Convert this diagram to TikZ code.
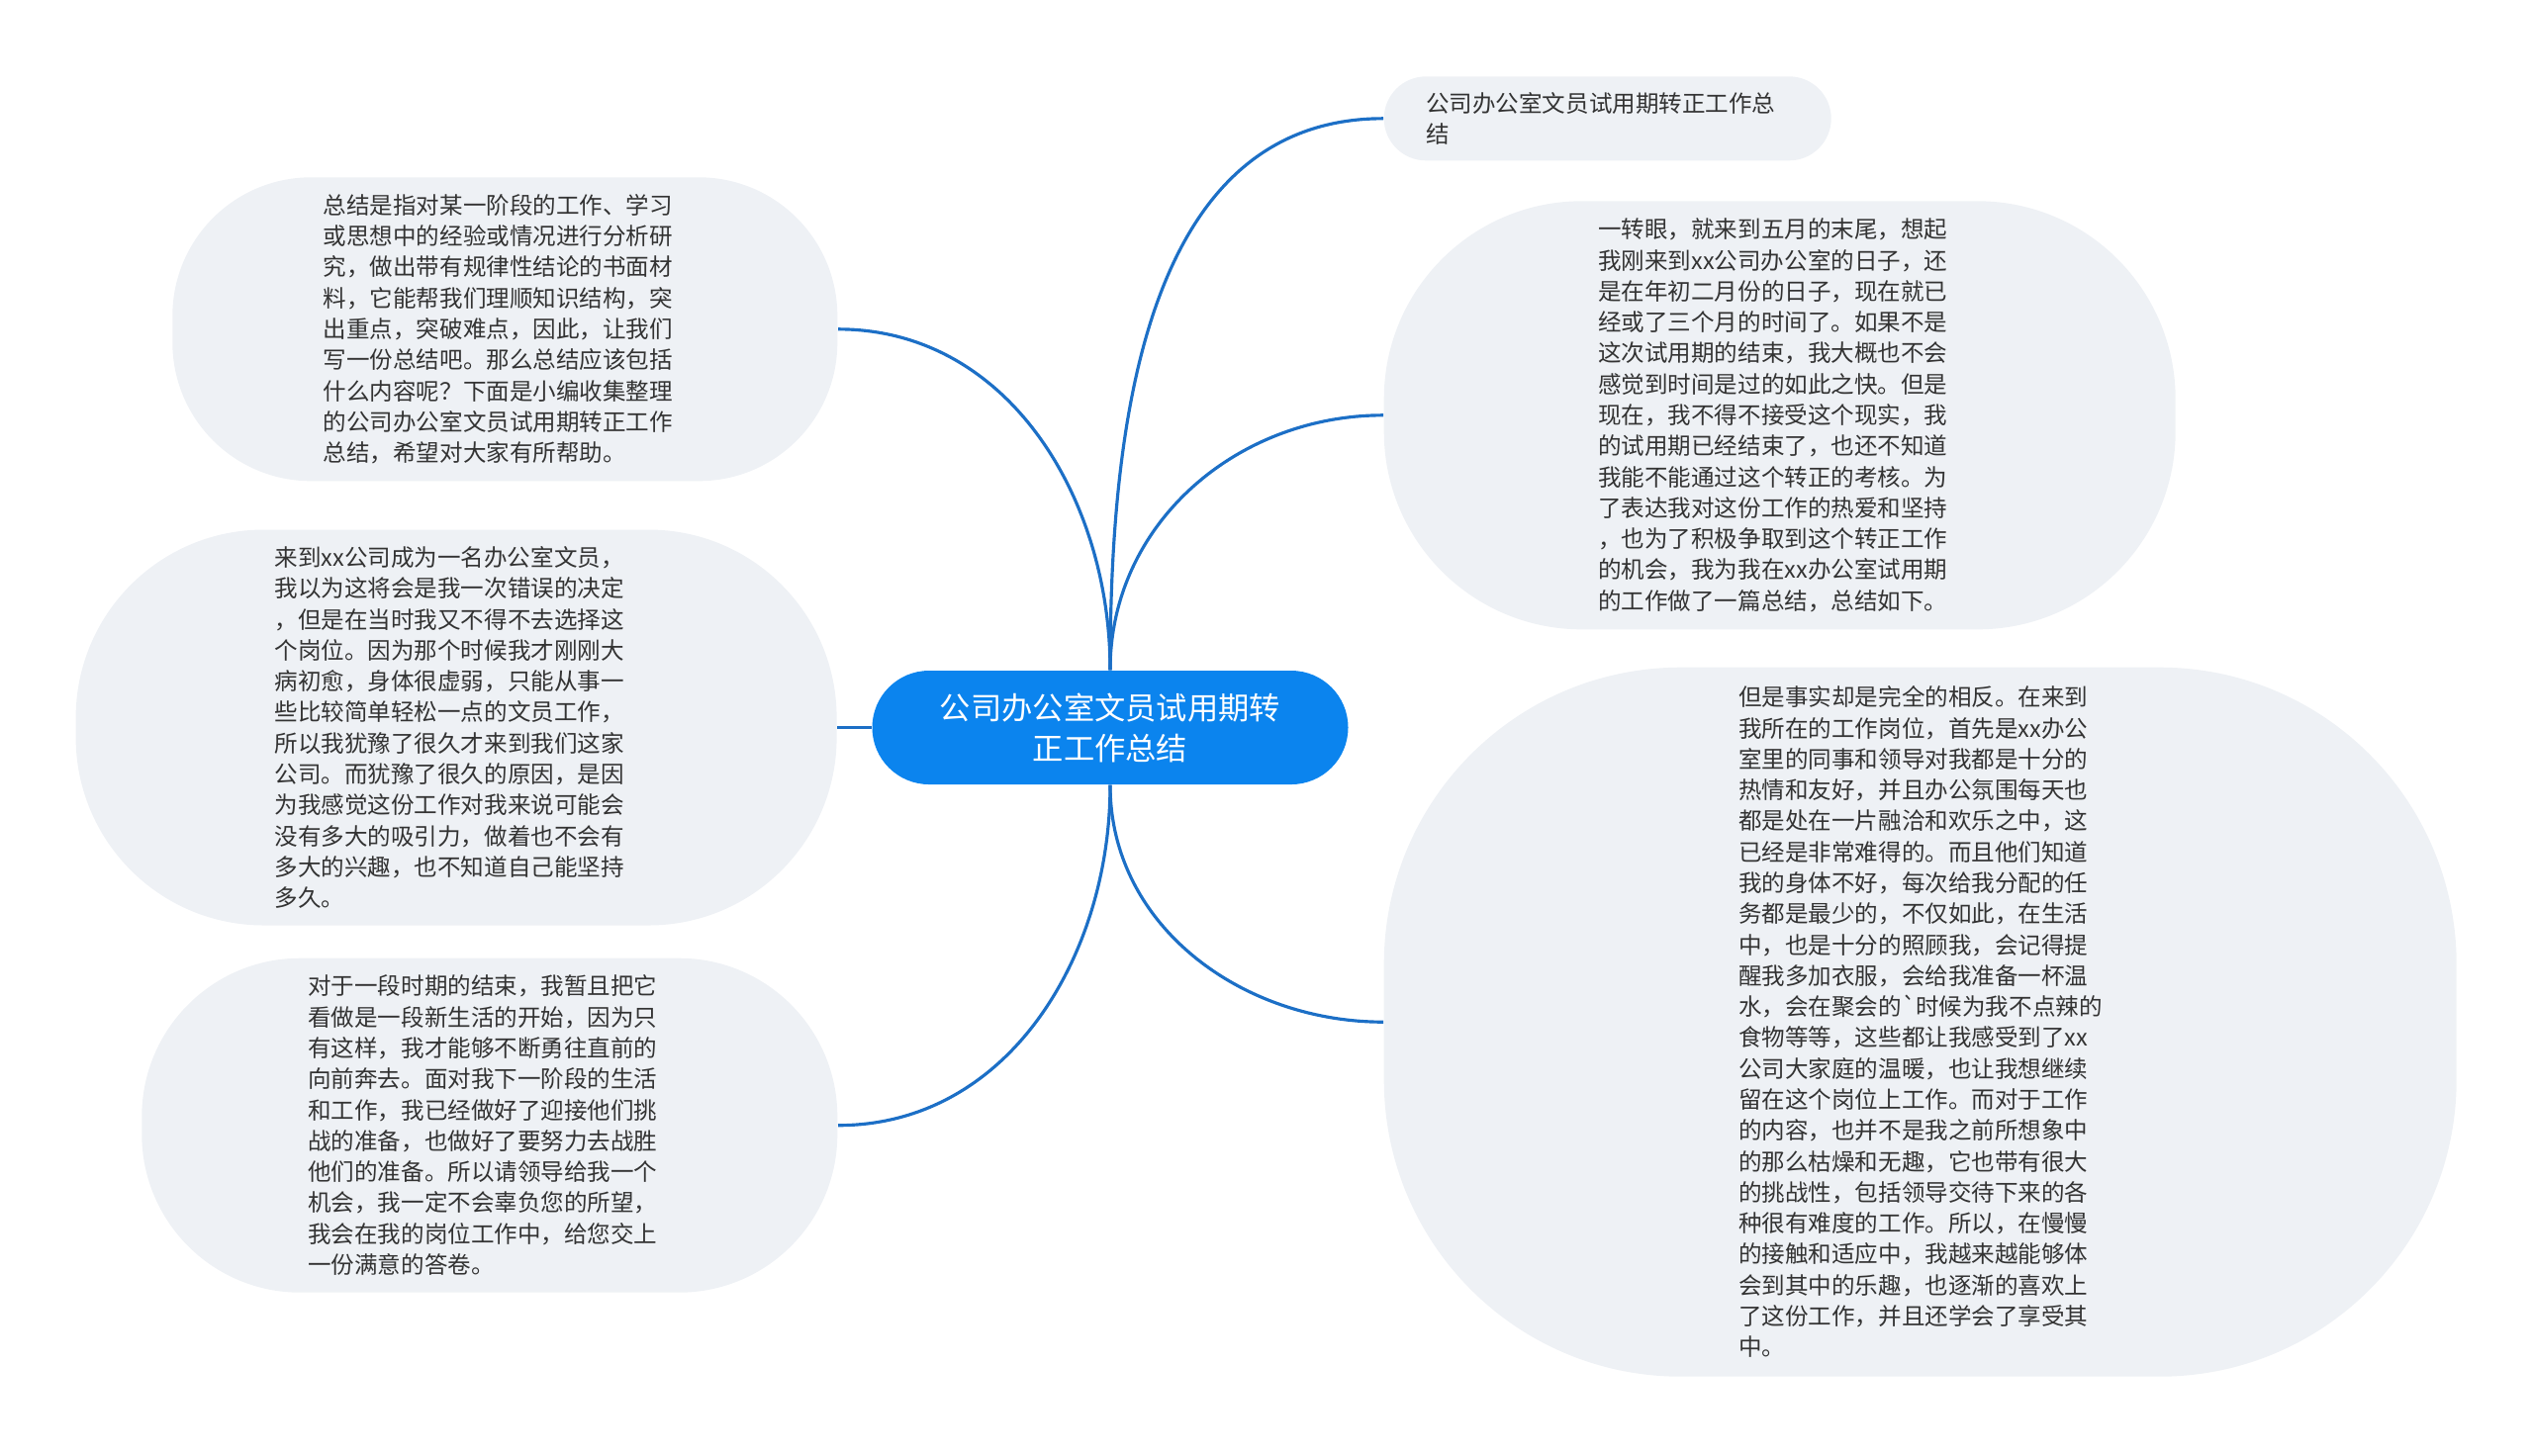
\documentclass[tikz,border=0pt]{standalone}
\usepackage{fontspec}
\newfontfamily\cjkfont{Noto Sans CJK SC}[Ligatures=TeXOff]
\usetikzlibrary{positioning}
\definecolor{leafgray}{HTML}{EEF1F5}
\definecolor{rootblue}{HTML}{0B84EE}
\definecolor{linkblue}{HTML}{1C6FC6}
\definecolor{inkgray}{HTML}{333333}
\tikzset{topic/.style={
       rectangle,
       rounded corners=0.575cm,
       fill=rootblue,
       text=white,
       minimum width=4.81cm,
       minimum height=1.15cm,
       align=center,
       font=\cjkfont\fontsize{8.9pt}{11.7pt}\selectfont
     },
     leaf/.style={
       rectangle,
       fill=leafgray,
       text=inkgray,
       inner sep=0,
       text width=3.67cm,
       align=left,
       font=\cjkfont\fontsize{6.7pt}{8.9pt}\selectfont
     }
}
\begin{document}
\begin{tikzpicture}[
    every edge/.style={draw=linkblue, line width=0.9pt}]
    \useasboundingbox (0,0) rectangle (25.6,-14.71);
    \node[topic] (root) at (11.22,-7.355) {公司办公室文员试用期转\\正工作总结};

    \node[leaf, minimum width=4.52cm, minimum height=0.85cm, rounded corners=0.425cm] (title)
      [above right=5.575cm and 2.76cm of root.north, anchor=west]
      {公司办公室文员试用期转正工作总\\结}
      edge [out=180, in=90] (root.north);

    \node[leaf, minimum width=8cm, minimum height=4.33cm, rounded corners=2cm] (review)
      [above right=2.575cm and 2.76cm of root.north, anchor=west]
      {一转眼，就来到五月的末尾，想起\\我刚来到xx公司办公室的日子，还\\是在年初二月份的日子，现在就已\\经或了三个月的时间了。如果不是\\这次试用期的结束，我大概也不会\\感觉到时间是过的如此之快。但是\\现在，我不得不接受这个现实，我\\的试用期已经结束了，也还不知道\\我能不能通过这个转正的考核。为\\了表达我对这份工作的热爱和坚持\\，也为了积极争取到这个转正工作\\的机会，我为我在xx办公室试用期\\的工作做了一篇总结，总结如下。}
      edge [out=180, in=90] (root.north);

    \node[leaf, minimum width=10.84cm, minimum height=7.17cm, rounded corners=3cm] (reality)
      [below right=2.395cm and 2.76cm of root.south, anchor=west]
      {但是事实却是完全的相反。在来到\\我所在的工作岗位，首先是xx办公\\室里的同事和领导对我都是十分的\\热情和友好，并且办公氛围每天也\\都是处在一片融洽和欢乐之中，这\\已经是非常难得的。而且他们知道\\我的身体不好，每次给我分配的任\\务都是最少的，不仅如此，在生活\\中，也是十分的照顾我，会记得提\\醒我多加衣服，会给我准备一杯温\\水，会在聚会的`时候为我不点辣的\\食物等等，这些都让我感受到了xx\\公司大家庭的温暖，也让我想继续\\留在这个岗位上工作。而对于工作\\的内容，也并不是我之前所想象中\\的那么枯燥和无趣，它也带有很大\\的挑战性，包括领导交待下来的各\\种很有难度的工作。所以，在慢慢\\的接触和适应中，我越来越能够体\\会到其中的乐趣，也逐渐的喜欢上\\了这份工作，并且还学会了享受其\\中。}
      edge [out=180, in=270] (root.south);

    \node[leaf, minimum width=6.72cm, minimum height=3.07cm, rounded corners=1.4cm] (intro)
      [above left=3.445cm and 2.75cm of root.north, anchor=east]
      {总结是指对某一阶段的工作、学习\\或思想中的经验或情况进行分析研\\究，做出带有规律性结论的书面材\\料，它能帮我们理顺知识结构，突\\出重点，突破难点，因此，让我们\\写一份总结吧。那么总结应该包括\\什么内容呢？下面是小编收集整理\\的公司办公室文员试用期转正工作\\总结，希望对大家有所帮助。}
      edge [out=0, in=90] (root.north);

    \node[leaf, minimum width=7.69cm, minimum height=4cm, rounded corners=1.9cm] (doubt)
      [left=0.345cm of root.west, anchor=east]
      {来到xx公司成为一名办公室文员，\\我以为这将会是我一次错误的决定\\，但是在当时我又不得不去选择这\\个岗位。因为那个时候我才刚刚大\\病初愈，身体很虚弱，只能从事一\\些比较简单轻松一点的文员工作，\\所以我犹豫了很久才来到我们这家\\公司。而犹豫了很久的原因，是因\\为我感觉这份工作对我来说可能会\\没有多大的吸引力，做着也不会有\\多大的兴趣，也不知道自己能坚持\\多久。}
      edge (root.west);

    \node[leaf, minimum width=7.03cm, minimum height=3.38cm, rounded corners=1.6cm] (pledge)
      [below left=3.44cm and 2.75cm of root.south, anchor=east]
      {对于一段时期的结束，我暂且把它\\看做是一段新生活的开始，因为只\\有这样，我才能够不断勇往直前的\\向前奔去。面对我下一阶段的生活\\和工作，我已经做好了迎接他们挑\\战的准备，也做好了要努力去战胜\\他们的准备。所以请领导给我一个\\机会，我一定不会辜负您的所望，\\我会在我的岗位工作中，给您交上\\一份满意的答卷。}
      edge [out=0, in=270] (root.south);
  \end{tikzpicture}
\end{document}
